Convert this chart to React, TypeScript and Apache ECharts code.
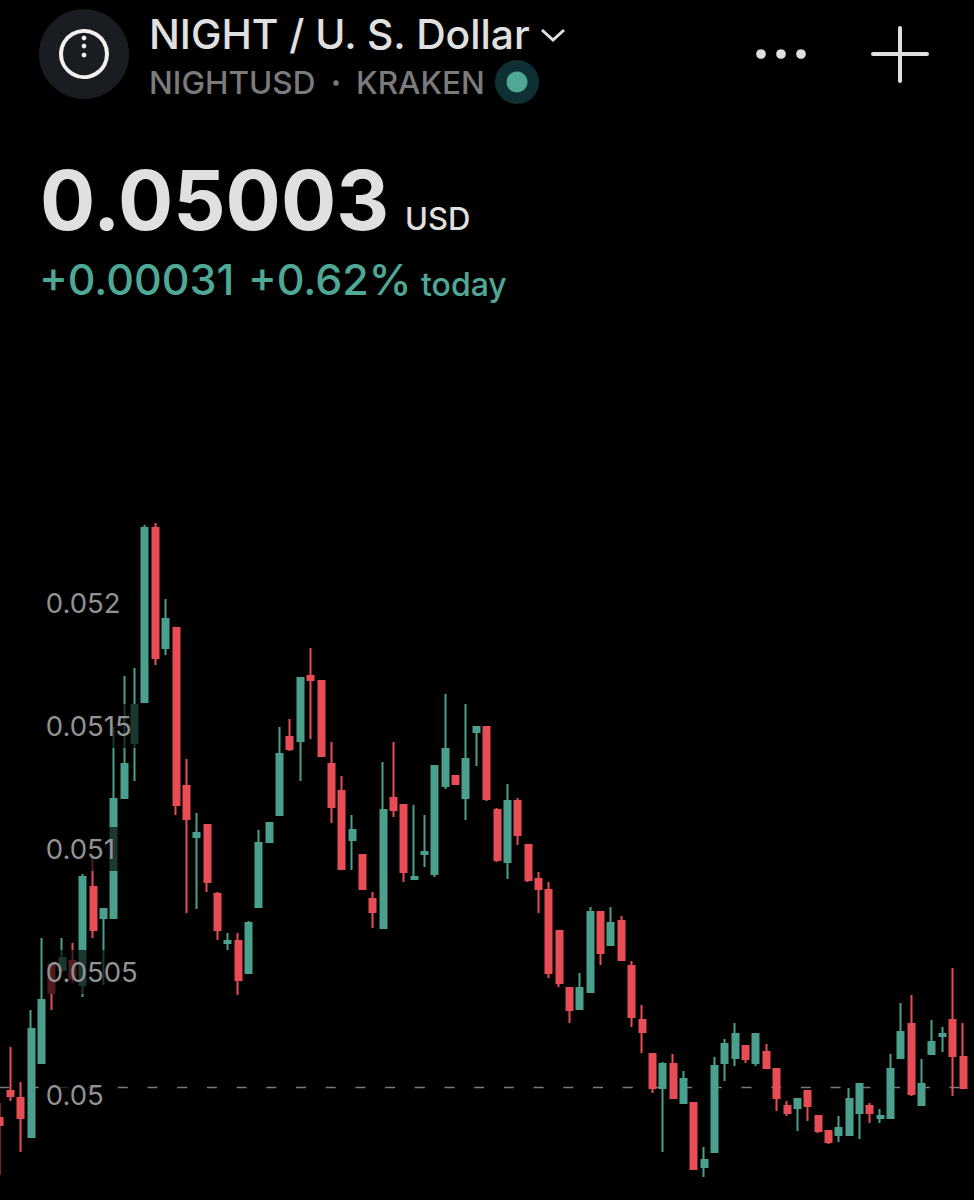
import React, { useEffect, useRef } from "react";
import * as echarts from "echarts";

const opens = [0.049906,0.050016,0.049988,0.049829,0.050130,0.050528,0.050508,0.050545,0.050447,0.050846,0.050720,0.050720,0.051207,0.051431,0.051598,0.052305,0.051817,0.051898,0.051256,0.051049,0.051098,0.050817,0.050618,0.050626,0.050496,0.050764,0.051028,0.051138,0.051455,0.051439,0.051703,0.051683,0.051346,0.051236,0.051037,0.050976,0.050797,0.050679,0.051207,0.051179,0.050878,0.050980,0.050898,0.051256,0.051297,0.051207,0.051476,0.051496,0.051159,0.050947,0.051195,0.051016,0.050878,0.050833,0.050667,0.050435,0.050350,0.050419,0.050744,0.050610,0.050707,0.050524,0.050305,0.050167,0.050028,0.050126,0.049967,0.049967,0.049707,0.049768,0.050130,0.050150,0.050199,0.050130,0.050175,0.050106,0.049955,0.049947,0.050016,0.049915,0.049854,0.049837,0.049837,0.049927,0.049955,0.049906,0.049906,0.050150,0.050289,0.049959,0.050167,0.050240,0.050305,0.050154];
const closes = [0.049878,0.049996,0.049906,0.050268,0.050386,0.050415,0.050557,0.050476,0.050886,0.050671,0.050756,0.051203,0.051346,0.051585,0.052305,0.051776,0.051935,0.051179,0.051122,0.051065,0.050866,0.050671,0.050626,0.050467,0.050699,0.051024,0.051106,0.051386,0.051406,0.051695,0.051687,0.051378,0.051171,0.050919,0.051077,0.050837,0.050744,0.051159,0.051159,0.050907,0.050886,0.050988,0.051337,0.051406,0.051264,0.051366,0.051496,0.051203,0.050955,0.051195,0.051057,0.050874,0.050837,0.050496,0.050455,0.050346,0.050435,0.050744,0.050577,0.050699,0.050549,0.050317,0.050256,0.050028,0.050126,0.049988,0.050065,0.049699,0.049736,0.050118,0.050207,0.050248,0.050146,0.050248,0.050110,0.049988,0.049927,0.049984,0.049955,0.049854,0.049809,0.049866,0.049984,0.050045,0.049927,0.049915,0.050106,0.050256,0.050004,0.050045,0.050215,0.050248,0.050159,0.050028];
const lows = [0.049675,0.049976,0.049768,0.049829,0.050130,0.050346,0.050500,0.050455,0.050398,0.050638,0.050447,0.050720,0.051207,0.051276,0.051598,0.051748,0.051789,0.051138,0.050740,0.050756,0.050825,0.050630,0.050589,0.050407,0.050496,0.050764,0.051028,0.051138,0.051398,0.051276,0.051447,0.051378,0.051106,0.050919,0.050915,0.050837,0.050679,0.050679,0.051130,0.050866,0.050878,0.050927,0.050886,0.051244,0.051264,0.051118,0.051337,0.051195,0.050947,0.050878,0.051016,0.050866,0.050740,0.050476,0.050439,0.050293,0.050350,0.050419,0.050528,0.050610,0.050549,0.050276,0.050171,0.050008,0.049768,0.049988,0.049967,0.049699,0.049667,0.049768,0.050057,0.050118,0.050130,0.050118,0.050110,0.049935,0.049915,0.049854,0.049894,0.049846,0.049801,0.049809,0.049837,0.049821,0.049886,0.049886,0.049906,0.050150,0.049996,0.049959,0.050167,0.050175,0.049996,0.050028];
const highs = [0.049967,0.050195,0.050053,0.050346,0.050638,0.050528,0.050638,0.050618,0.050898,0.050976,0.050756,0.051496,0.051703,0.051736,0.052317,0.052325,0.052016,0.051898,0.051366,0.051146,0.051098,0.050825,0.050659,0.050659,0.050707,0.051077,0.051106,0.051496,0.051528,0.051695,0.051817,0.051683,0.051435,0.051297,0.051138,0.050976,0.050825,0.051354,0.051435,0.051179,0.051179,0.051138,0.051337,0.051630,0.051297,0.051589,0.051496,0.051496,0.051167,0.051264,0.051207,0.051016,0.050907,0.050866,0.050667,0.050435,0.050496,0.050764,0.050744,0.050764,0.050728,0.050545,0.050366,0.050167,0.050134,0.050167,0.050098,0.049967,0.049789,0.050154,0.050228,0.050293,0.050199,0.050248,0.050207,0.050106,0.049976,0.049984,0.050016,0.049915,0.049854,0.049915,0.050028,0.050045,0.049967,0.049943,0.050167,0.050374,0.050407,0.050146,0.050305,0.050276,0.050516,0.050293];
const categories = opens.map((_, i) => String(i));
const lastPrice = 0.05003;
const priceMin = 0.0495;
const priceMax = 0.0525;
const priceStep = 0.0005;

const GREEN = "#4aa08c";
const RED = "#e84c54";
const WHITE = "#e0e0e0";

function text(content: string, x: number, y: number, size: number, weight: number, fill: string) {
  return {
    type: "text",
    x,
    y,
    silent: true,
    style: {
      text: content,
      fill,
      fontFamily: "Inter",
      fontSize: size,
      fontWeight: weight,
      verticalAlign: "middle",
      align: "left",
    },
  };
}

export default function App() {
  const ref = useRef<HTMLDivElement>(null);
  useEffect(() => {
    const chart = echarts.init(ref.current!, null, { renderer: "svg" });
    chart.setOption({
      animation: false,
      backgroundColor: "#000000",
      grid: { left: -5.18, width: 973.4, top: 480, height: 738, containLabel: false, outerBoundsMode: "none" },
      xAxis: { type: "category", data: categories, show: false, boundaryGap: true },
      yAxis: {
        type: "value",
        min: priceMin,
        max: priceMax,
        interval: priceStep,
        position: "left",
        z: 10,
        axisLine: { show: false },
        axisTick: { show: false },
        splitLine: { show: false },
        axisLabel: {
          inside: true,
          margin: 51,
          showMinLabel: false,
          showMaxLabel: false,
          color: "#929292",
          fontFamily: "Inter",
          fontSize: 27.5,
          fontWeight: 400,
          align: "left",
          backgroundColor: "rgba(0,0,0,0.65)",
          padding: [8, 8, 8, 0],
          formatter: (v: number) => String(parseFloat(v.toFixed(4))),
        },
      },
      series: [
        {
          type: "line",
          data: categories.map(() => lastPrice),
          showSymbol: false,
          silent: true,
          z: 1,
          lineStyle: { color: "#7a7a7a", width: 1.5, type: [10, 19.7], dashOffset: 1 },
          clip: false,
        },
        {
          type: "candlestick",
          z: 2,
          clip: false,
          barWidth: 6.5,
          data: opens.map((o, i) => [o, closes[i], lows[i], highs[i]]),
          itemStyle: {
            color: GREEN,
            color0: RED,
            borderColor: GREEN,
            borderColor0: RED,
            borderWidth: 2,
          },
        },
      ],
      graphic: {
        elements: [
          { type: "circle", shape: { cx: 84, cy: 54, r: 45 }, style: { fill: "#191c20" }, silent: true },
          { type: "circle", shape: { cx: 84, cy: 54, r: 23 }, style: { fill: "none", stroke: "#f0f0f0", lineWidth: 4 }, silent: true },
          { type: "circle", shape: { cx: 84, cy: 38, r: 2.4 }, style: { fill: "#f0f0f0" }, silent: true },
          { type: "circle", shape: { cx: 84, cy: 46, r: 2.4 }, style: { fill: "#f0f0f0" }, silent: true },
          { type: "circle", shape: { cx: 84, cy: 55, r: 2.4 }, style: { fill: "#f0f0f0" }, silent: true },
          text("NIGHT / U. S. Dollar", 149, 34, 40.8, 500, WHITE),
          { type: "polyline", shape: { points: [[542, 30], [553, 40], [564, 30]] }, style: { fill: "none", stroke: WHITE, lineWidth: 3 }, silent: true },
          text("NIGHTUSD", 149, 82, 31.5, 500, "#7b7b7b"),
          { type: "circle", shape: { cx: 336, cy: 83, r: 2.8 }, style: { fill: "#7b7b7b" }, silent: true },
          text("KRAKEN", 356, 82, 31.5, 500, "#7b7b7b"),
          { type: "circle", shape: { cx: 517, cy: 82, r: 22 }, style: { fill: "#0e2f34" }, silent: true },
          { type: "circle", shape: { cx: 517, cy: 82, r: 10.5 }, style: { fill: "#4fa896" }, silent: true },
          { type: "circle", shape: { cx: 761, cy: 54, r: 4.8 }, style: { fill: WHITE }, silent: true },
          { type: "circle", shape: { cx: 781, cy: 54, r: 4.8 }, style: { fill: WHITE }, silent: true },
          { type: "circle", shape: { cx: 801, cy: 54, r: 4.8 }, style: { fill: WHITE }, silent: true },
          { type: "line", shape: { x1: 873, y1: 54, x2: 927, y2: 54 }, style: { stroke: WHITE, lineWidth: 4, lineCap: "round" }, silent: true },
          { type: "line", shape: { x1: 900, y1: 28, x2: 900, y2: 81 }, style: { stroke: WHITE, lineWidth: 4, lineCap: "round" }, silent: true },
          text("0.05003", 40, 200, 82, 700, WHITE),
          text("USD", 405, 218, 31, 500, WHITE),
          text("+0.00031", 39, 279, 43, 500, "#4fa896"),
          text("+0.62%", 248, 279, 43, 500, "#4fa896"),
          text("today", 421, 284, 32, 500, "#4fa896"),
        ],
      },
    });
    return () => chart.dispose();
  }, []);
  return (
    <div
      ref={ref}
      style={{ position: "absolute", left: 0, top: 0, width: 974, height: 1200, background: "#000" }}
    />
  );
}
